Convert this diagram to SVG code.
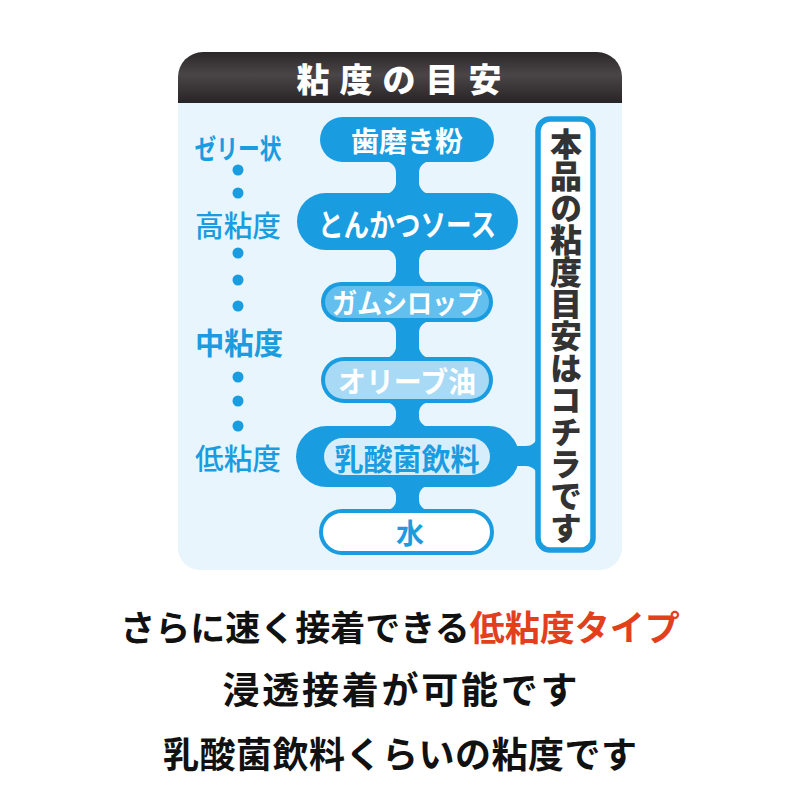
<svg xmlns="http://www.w3.org/2000/svg" width="800" height="800" viewBox="0 0 800 800">
<defs>
<linearGradient id="hdr" x1="0" y1="0" x2="0" y2="1">
<stop offset="0" stop-color="#2c2829"/>
<stop offset="0.45" stop-color="#4a4546"/>
<stop offset="1" stop-color="#282425"/>
</linearGradient>
<style>
.jp{font-family:"Noto Sans CJK JP","Noto Sans CJK SC",sans-serif;}
.lbl{font-family:"Noto Sans CJK JP","Noto Sans CJK SC",sans-serif;fill:#1a9ce0;text-anchor:middle;dominant-baseline:central;}
.pt{font-family:"Noto Sans CJK JP","Noto Sans CJK SC",sans-serif;font-weight:700;text-anchor:middle;dominant-baseline:central;}
.dot{fill:#1a9ce0;}
.cap{font-family:"Noto Sans CJK JP","Noto Sans CJK SC",sans-serif;font-weight:700;text-anchor:middle;dominant-baseline:central;fill:#111;}
</style>
</defs>
<rect width="800" height="800" fill="#ffffff"/>

<g id="card">
<path d="M178 103 L622 103 L622 548 A22 22 0 0 1 600 570 L200 570 A22 22 0 0 1 178 548 Z" fill="#e8f5fd"/>
<path d="M178 103 L178 77 A25 25 0 0 1 203 52 L597 52 A25 25 0 0 1 622 77 L622 103 Z" fill="url(#hdr)"/>
<text x="404" y="78" class="jp" font-size="33" font-weight="900" fill="#ffffff" text-anchor="middle" dominant-baseline="central" letter-spacing="10">粘度の目安</text>
</g>

<g id="scale">
<text x="238" y="147" class="lbl" font-size="27" font-weight="700" textLength="87" lengthAdjust="spacingAndGlyphs">ゼリー状</text>
<text x="238" y="224" class="lbl" font-size="29" font-weight="500" textLength="86" lengthAdjust="spacingAndGlyphs">高粘度</text>
<text x="239" y="341" class="lbl" font-size="30" font-weight="700" textLength="88" lengthAdjust="spacingAndGlyphs">中粘度</text>
<text x="238" y="457" class="lbl" font-size="29" font-weight="500" textLength="86" lengthAdjust="spacingAndGlyphs">低粘度</text>
<circle class="dot" cx="238" cy="170" r="5.5"/>
<circle class="dot" cx="238" cy="193" r="5.5"/>
<circle class="dot" cx="238" cy="253" r="5.5"/>
<circle class="dot" cx="238" cy="280" r="5.5"/>
<circle class="dot" cx="238" cy="306" r="5.5"/>
<circle class="dot" cx="238" cy="377" r="5.5"/>
<circle class="dot" cx="238" cy="401" r="5.5"/>
<circle class="dot" cx="238" cy="426" r="5.5"/>
</g>

<g id="connectors" fill="#1a9ce0">
<path d="M384 161 L431 161 A12 12 0 0 0 419 174 L419 181 A12 12 0 0 0 431 194 L384 194 A12 12 0 0 0 396 181 L396 174 A12 12 0 0 0 384 161 Z"/>
<path d="M384 249 L431 249 A12 12 0 0 0 419 262 L419 270 A12 12 0 0 0 431 283 L384 283 A12 12 0 0 0 396 270 L396 262 A12 12 0 0 0 384 249 Z"/>
<path d="M384 321 L431 321 A12 12 0 0 0 419 334 L419 345 A12 12 0 0 0 431 358 L384 358 A12 12 0 0 0 396 345 L396 334 A12 12 0 0 0 384 321 Z"/>
<path d="M385 402 L430 402 A11 11 0 0 0 419 414 L419 415 A11 11 0 0 0 430 427 L385 427 A11 11 0 0 0 396 415 L396 414 A11 11 0 0 0 385 402 Z"/>
<path d="M386 486 L429 486 A10 10 0 0 0 419 497 L419 499 A10 10 0 0 0 429 510 L386 510 A10 10 0 0 0 396 499 L396 497 A10 10 0 0 0 386 486 Z"/>
<path d="M538 434 A12 12 0 0 1 526 446 L505 446 L505 466 L526 466 A12 12 0 0 1 538 478 Z"/>
</g>

<g id="n1">
<rect x="320" y="117" width="174" height="45" rx="22.5" fill="#1a9ce0"/>
<text x="407" y="140" class="pt" font-size="28" fill="#ffffff" textLength="112" lengthAdjust="spacingAndGlyphs">歯磨き粉</text>
</g>
<g id="n2">
<rect x="297" y="193" width="221" height="57" rx="28.5" fill="#1a9ce0"/>
<text x="407" y="222" class="pt" font-size="31" font-weight="500" fill="#ffffff" textLength="178" lengthAdjust="spacingAndGlyphs">とんかつソース</text>
</g>
<g id="n3">
<rect x="321" y="282" width="172" height="40" rx="20" fill="#1a9ce0"/>
<rect x="325" y="286" width="164" height="32" rx="16" fill="#62bfee"/>
<text x="407" y="302" class="pt" font-size="28" fill="#ffffff" textLength="150" lengthAdjust="spacingAndGlyphs">ガムシロップ</text>
</g>
<g id="n4">
<rect x="321" y="357" width="172" height="46" rx="23" fill="#1a9ce0"/>
<rect x="325" y="361" width="164" height="38" rx="19" fill="#a9daf5"/>
<text x="407" y="380" class="pt" font-size="29" fill="#ffffff" textLength="138" lengthAdjust="spacingAndGlyphs">オリーブ油</text>
</g>
<g id="n5">
<rect x="296" y="426" width="223" height="61" rx="30.5" fill="#1a9ce0"/>
<rect x="324" y="438" width="166" height="37" rx="18.5" fill="#d6eefb"/>
<text x="407" y="457" class="pt" font-size="30" fill="#1a9ce0" textLength="145" lengthAdjust="spacingAndGlyphs">乳酸菌飲料</text>
</g>
<g id="n6">
<rect x="321" y="511" width="171" height="42" rx="21" fill="#ffffff" stroke="#1a9ce0" stroke-width="4"/>
<text x="410" y="532" class="pt" font-size="28" fill="#1a9ce0">水</text>
</g>

<g id="note">
<rect x="538" y="119" width="55" height="431" rx="12" fill="#ffffff" stroke="#1a9ce0" stroke-width="5.5"/>
<text x="566" y="128" class="jp" font-size="32" font-weight="900" fill="#333333" writing-mode="vertical-rl">本品の粘度目安はコチラです</text>
</g>

<g id="caption">
<text x="400" y="625" class="cap" font-size="35">さらに速く接着できる<tspan fill="#e2401c">低粘度タイプ</tspan></text>
<text x="400" y="688" class="cap" font-size="37" textLength="355" lengthAdjust="spacing">浸透接着が可能です</text>
<text x="400" y="752" class="cap" font-size="36" textLength="474" lengthAdjust="spacing">乳酸菌飲料くらいの粘度です</text>
</g>
</svg>
